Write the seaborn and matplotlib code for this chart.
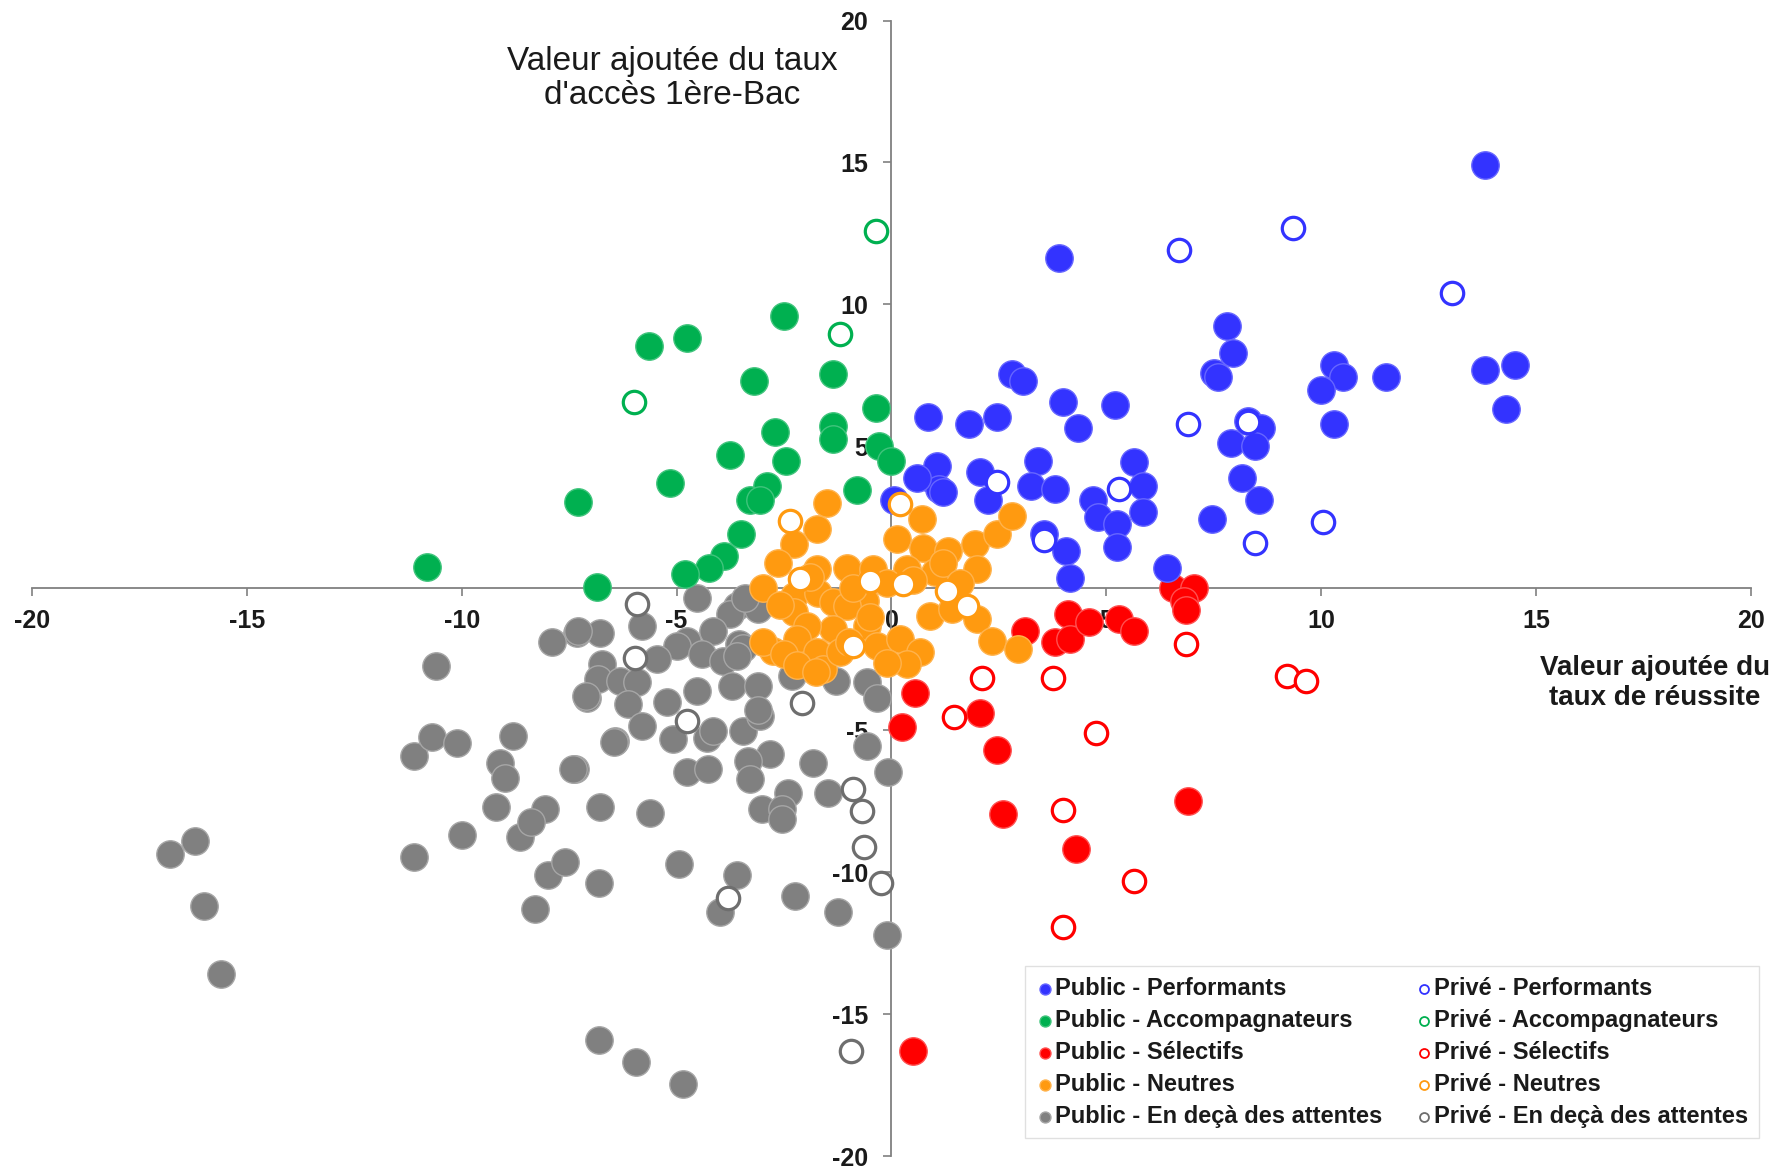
import matplotlib
matplotlib.use('Agg')
import matplotlib.pyplot as plt
import seaborn as sns

sns.set_style('white')
plt.rcParams['font.family'] = ['Liberation Sans', 'DejaVu Sans']

# --- data (x = VA taux de réussite, y = VA taux d'accès 1ère-Bac)
pub_perf_x = [13.8, 3.9, 7.8, 7.95, 7.5, 7.6, 10.3, 10.5, 11.5, 13.8, 14.5, 14.3, 10.0, 10.3,
              2.8, 3.05, 4.0, 4.35, 5.2, 0.85, 1.8, 2.45, 8.3, 8.6, 7.9, 8.45, 3.4, 3.25, 3.8,
              5.65, 5.85, 5.85, 0.9, 1.05, 1.1, 1.2, 2.05, 2.25, 4.7, 4.8, 5.25, 5.25, 8.15,
              8.55, 7.45, 3.55, 4.05, 4.15, 6.4, 0.05, 0.6]
pub_perf_y = [14.9, 11.65, 9.25, 8.3, 7.6, 7.45, 7.85, 7.45, 7.45, 7.7, 7.85, 6.3, 7.0, 5.8,
              7.55, 7.3, 6.55, 5.65, 6.45, 6.05, 5.8, 6.05, 5.9, 5.65, 5.1, 5.0, 4.5, 3.6, 3.5,
              4.45, 3.6, 2.7, 3.9, 4.3, 3.5, 3.4, 4.1, 3.1, 3.1, 2.5, 2.25, 1.45, 3.9,
              3.1, 2.45, 1.9, 1.3, 0.35, 0.7, 3.1, 3.9]
priv_perf_x = [6.7, 9.35, 13.05, 6.9, 8.3, 2.45, 5.3, 3.55, 10.05, 8.45]
priv_perf_y = [11.9, 12.7, 10.4, 5.8, 5.85, 3.75, 3.5, 1.7, 2.35, 1.6]

pub_acc_x = [-10.8, -7.3, -6.85, -5.65, -4.75, -2.5, -3.2, -1.35, -0.35, -1.35, -1.35, -2.7,
             -3.75, -2.45, -5.15, -2.9, -3.3, -3.05, -0.8, -0.3, 0.0, -3.5, -3.9, -4.25, -4.8]
pub_acc_y = [0.75, 3.05, 0.05, 8.55, 8.8, 9.6, 7.3, 7.55, 6.35, 5.7, 5.25, 5.5,
             4.7, 4.5, 3.7, 3.6, 3.1, 3.1, 3.45, 5.0, 4.5, 1.9, 1.15, 0.7, 0.5]
priv_acc_x = [-0.35, -1.2, -6.0]
priv_acc_y = [12.6, 8.95, 6.55]

pub_sel_x = [0.5, 6.55, 7.05, 6.8, 6.85, 6.9, 4.1, 3.8, 4.15, 4.6, 5.3, 5.65, 3.1, 0.55,
             0.25, 2.05, 2.45, 2.6, 4.3]
pub_sel_y = [-16.3, 0.0, 0.0, -0.45, -0.75, -7.5, -0.9, -1.9, -1.8, -1.2, -1.1, -1.5, -1.5,
             -3.7, -4.9, -4.4, -5.7, -7.95, -9.2]
priv_sel_x = [6.85, 2.1, 3.75, 1.45, 4.75, 9.2, 9.65, 4.0, 5.65, 4.0]
priv_sel_y = [-1.95, -3.15, -3.15, -4.55, -5.1, -3.1, -3.25, -7.8, -10.3, -11.95]

pub_neu_x = [-1.5, -1.74, -2.28, -2.63, -2.98, -1.74, -1.04, -0.42, 0.12, 0.7, 0.74, 1.32,
             1.94, 2.45, 2.8, 1.98, 1.01, 0.35, -0.11, -2.28, -1.7, -1.35, -0.62, -2.28,
             -1.04, -1.35, -0.58, -1.97, -2.2, -2.75, -1.74, -1.59, -1.2, -0.34, 0.2, 0.66,
             0.35, -0.11, 0.9, 1.4, 1.98, 2.33, 2.95, -3.0, -2.5, -2.2, -1.75, -0.9, -1.9,
             -0.5, 1.2, 0.5, -2.6, 1.6, -1.0]
pub_neu_y = [3.0, 2.08, 1.55, 0.9, 0.02, 0.67, 0.72, 0.67, 1.73, 2.43, 1.43, 1.31,
             1.55, 1.9, 2.55, 0.67, 0.56, 0.67, 0.2, -0.27, -0.15, -0.5, -0.45, -0.85,
             -0.62, -1.44, -1.32, -1.32, -1.8, -2.2, -2.26, -2.85, -2.26, -2.03, -1.8, -2.26,
             -2.68, -2.62, -0.97, -0.74, -1.09, -1.85, -2.15, -1.9, -2.3, -2.7, -2.95, 0.0, 0.4,
             -1.0, 0.9, 0.3, -0.6, 0.2, -1.9]
priv_neu_x = [-2.36, 0.2, -2.13, -0.5, 0.27, 1.28, 1.75, -0.89]
priv_neu_y = [2.37, 2.96, 0.32, 0.26, 0.14, -0.1, -0.62, -2.03]

pub_att_x = [-4.53, -3.6, -3.1, -3.76, -5.81, -4.15, -4.77, -5.0, -4.42, -3.91, -3.55, -3.45,
             -3.6, -5.46, -6.78, -7.32, -7.9, -6.74, -6.82, -6.32, -5.93, -7.09, -6.12, -5.23,
             -4.53, -3.72, -3.1, -2.32, -1.28, -0.58, -0.34, -5.81, -6.43, -5.08, -4.3, -4.15,
             -3.45, -3.06, -3.1, -2.83, -3.33, -3.29, -4.77, -4.26, -7.36, -1.82, -0.58, -0.07,
             -2.4, -1.47, -3.02, -2.55, -2.55, -6.78, -5.62, -8.06, -16.8, -16.2, -16.0, -15.6,
             -11.1, -11.1, -10.7, -10.1, -10.0, -10.6, -9.1, -9.0, -8.8, -9.2, -8.65, -8.4,
             -8.0, -8.3, -7.6, -7.3, -7.1, -7.4, -6.8, -6.8, -5.95, -4.85, -6.45, -4.95, -4.0,
             -3.6, -2.25, -1.25, -0.1, -3.4]
pub_att_y = [-0.33, -0.62, -0.74, -0.92, -1.33, -1.5, -1.85, -2.03, -2.32, -2.56, -1.97, -2.1,
             -2.4, -2.5, -1.56, -1.56, -1.91, -2.68, -3.2, -3.26, -3.32, -3.85, -4.08, -4.02,
             -3.62, -3.44, -3.44, -3.09, -3.26, -3.32, -3.85, -4.85, -5.38, -5.32, -5.26, -5.02,
             -5.02, -4.5, -4.3, -5.85, -6.08, -6.72, -6.49, -6.37, -6.37, -6.14, -5.55, -6.49,
             -7.2, -7.2, -7.78, -7.78, -8.13, -7.72, -7.9, -7.78, -9.37, -8.9, -11.2, -13.6,
             -5.9, -9.45, -5.25, -5.45, -8.7, -2.75, -6.15, -6.7, -5.2, -7.7, -8.75, -8.25,
             -10.1, -11.3, -9.65, -1.5, -3.8, -6.35, -10.4, -15.9, -16.7, -17.45, -5.4, -9.7,
             -11.4, -10.1, -10.85, -11.4, -12.2, -0.35]
priv_att_x = [-5.93, -5.97, -4.77, -2.09, -0.89, -0.69, -0.65, -0.25, -3.8, -0.95]
priv_att_y = [-0.56, -2.44, -4.67, -4.03, -7.08, -7.84, -9.1, -10.4, -10.9, -16.3]

ticks = [-20, -15, -10, -5, 0, 5, 10, 15, 20]
tick_labels = ['-20', '-15', '-10', '-5', '0', '5', '10', '15', '20']

blue, green, red, orange, grey = '#3333FF', '#00B050', '#FF0000', '#FF9A10', '#808080'

fig = plt.figure(figsize=(17.83, 11.67), dpi=100)
ax = fig.add_axes([32 / 1783, 11 / 1167, (1751 - 32) / 1783, (1156 - 20.5) / 1167])

filled = [
    (pub_att_x, pub_att_y, grey, '#A6A6A6', 'Public - En deçà des attentes'),
    (pub_sel_x, pub_sel_y, red, '#FF5050', 'Public - Sélectifs'),
    (pub_acc_x, pub_acc_y, green, '#40C47C', 'Public - Accompagnateurs'),
    (pub_neu_x, pub_neu_y, orange, '#FFB34D', 'Public - Neutres'),
    (pub_perf_x, pub_perf_y, blue, '#6666FF', 'Public - Performants'),
]
hollow = [
    (priv_att_x, priv_att_y, '#6E6E6E', 'Privé - En deçà des attentes'),
    (priv_sel_x, priv_sel_y, red, 'Privé - Sélectifs'),
    (priv_acc_x, priv_acc_y, green, 'Privé - Accompagnateurs'),
    (priv_neu_x, priv_neu_y, orange, 'Privé - Neutres'),
    (priv_perf_x, priv_perf_y, blue, 'Privé - Performants'),
]

for xs, ys, c, ec, lab in filled:
    sns.scatterplot(x=xs, y=ys, ax=ax, color=c, s=390, edgecolor=ec, linewidth=1.0,
                    alpha=1, label=lab, zorder=3)
for xs, ys, c, lab in hollow:
    sns.scatterplot(x=xs, y=ys, ax=ax, facecolor='white', edgecolor=c, s=260, linewidth=2.3,
                    label=lab, zorder=4)

ax.set_xlim(-20, 20)
ax.set_ylim(-20, 20)
ax.set_xticks(ticks, tick_labels)
ax.set_yticks(ticks, tick_labels)
ax.spines['left'].set_position(('data', 0))
ax.spines['bottom'].set_position(('data', 0))
for side in ['top', 'right']:
    ax.spines[side].set_visible(False)
for side in ['left', 'bottom']:
    ax.spines[side].set_color('#808080')
    ax.spines[side].set_linewidth(1.3)
    ax.spines[side].set_zorder(1)
ax.tick_params(bottom=True, left=True, direction='out', length=6, width=1.2,
               color='#808080', labelsize=18, labelcolor='#1A1A1A')
ax.tick_params(axis='x', pad=9)
ax.tick_params(axis='y', pad=11)
for lbl in ax.get_xticklabels() + ax.get_yticklabels():
    lbl.set_fontweight('bold')
ax.set_xlabel('')
ax.set_ylabel('')

fig.text(0.377, 0.933, "Valeur ajoutée du taux\nd'accès 1ère-Bac", ha='center', va='center',
         fontsize=24, linespacing=1.12, color='#1A1A1A')
fig.text(0.928, 0.4147, "Valeur ajoutée du\ntaux de réussite", ha='center', va='center',
         fontsize=20, fontweight='bold', linespacing=1.2, color='#1A1A1A')

handles, labels = ax.get_legend_handles_labels()
order = [4, 2, 1, 3, 0, 9, 7, 6, 8, 5]
leg = ax.legend([handles[i] for i in order], [labels[i] for i in order], ncol=2,
                loc='upper left', bbox_to_anchor=(0.575, 0.172), bbox_transform=fig.transFigure,
                borderaxespad=0, prop={'weight': 'bold', 'size': 17}, markerscale=0.4,
                handletextpad=0.0, handlelength=0.8, columnspacing=1.4, labelspacing=0.38,
                borderpad=0.45, frameon=True, fancybox=False, edgecolor='#D9D9D9')
leg.get_frame().set_linewidth(1.0)
for h in leg.legend_handles[5:]:
    h.set_linewidth(1.3)
for t in leg.get_texts():
    t.set_color('#1A1A1A')

fig.savefig('out.png', dpi=100)
